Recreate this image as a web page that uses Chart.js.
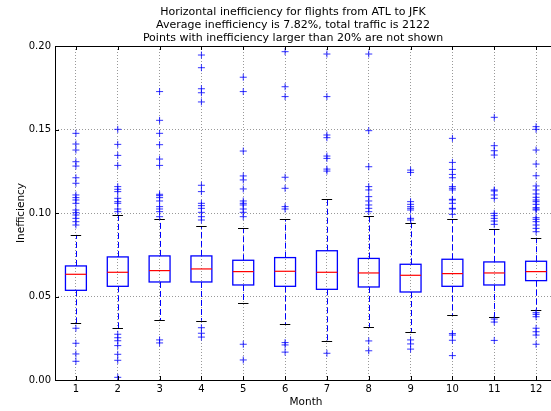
<!DOCTYPE html>
<html>
<head>
<meta charset="utf-8">
<script src="https://cdn.jsdelivr.net/npm/chart.js@4/dist/chart.umd.min.js"></script>
<style>
  html, body { margin: 0; padding: 0; background: #fff; overflow: hidden; }
  #wrap { width: 551px; height: 411px; overflow: hidden; position: relative; }
  canvas { display: block; }
</style>
</head>
<body>
<div id="wrap"><canvas id="c" width="562" height="411"></canvas></div>
<script>
// Monthly box statistics of horizontal inefficiency (ATL -> JFK)
const months = [1, 2, 3, 4, 5, 6, 7, 8, 9, 10, 11, 12];
const q1 = [0.0537, 0.0561, 0.0587, 0.0587, 0.0569, 0.0561, 0.0543, 0.0557, 0.0527, 0.0561, 0.0569, 0.0595];
const q3 = [0.0683, 0.0737, 0.0743, 0.0743, 0.0717, 0.0733, 0.0774, 0.0728, 0.0693, 0.0723, 0.0707, 0.0711];
const medians = [0.0633, 0.0645, 0.0655, 0.0665, 0.0649, 0.0651, 0.0645, 0.0641, 0.0627, 0.0637, 0.0641, 0.0649];
const whiskerLow = [0.0339, 0.0309, 0.0359, 0.0355, 0.0463, 0.0333, 0.0236, 0.0317, 0.0289, 0.0388, 0.0378, 0.0421];
const whiskerHigh = [0.0869, 0.0988, 0.0966, 0.0922, 0.0908, 0.0964, 0.1082, 0.0982, 0.0942, 0.0964, 0.0906, 0.0852];

// Flier points per month (values above / below the whiskers, up to 20%)
const outliers = [
  [0.1477, 0.1413, 0.1377, 0.1307, 0.1281, 0.1211, 0.1178, 0.1108, 0.1092, 0.1078, 0.1058, 0.1018, 0.1002, 0.0988, 0.0968, 0.0948, 0.0928, 0.0310, 0.0220, 0.0156, 0.0112],
  [0.1501, 0.1411, 0.1345, 0.1285, 0.1158, 0.1142, 0.1128, 0.1088, 0.1068, 0.1058, 0.1024, 0.1008, 0.0274, 0.0253, 0.0235, 0.0206, 0.0154, 0.0118, 0.0016],
  [0.1727, 0.1555, 0.1477, 0.1409, 0.1323, 0.1285, 0.1112, 0.1104, 0.1092, 0.1072, 0.1038, 0.1024, 0.1008, 0.0978, 0.0240, 0.0222],
  [0.1946, 0.1870, 0.1744, 0.1720, 0.1665, 0.1166, 0.1128, 0.1058, 0.1044, 0.1028, 0.1004, 0.0978, 0.0958, 0.0313, 0.0280, 0.0257],
  [0.1813, 0.1727, 0.1371, 0.1222, 0.1198, 0.1144, 0.1072, 0.1058, 0.1048, 0.1024, 0.1004, 0.0978, 0.0214, 0.0120],
  [0.1966, 0.1756, 0.1697, 0.1214, 0.1148, 0.1038, 0.1024, 0.0224, 0.0210, 0.0167],
  [0.1952, 0.1697, 0.1467, 0.1451, 0.1341, 0.1327, 0.1263, 0.1251, 0.0160],
  [0.1952, 0.1493, 0.1277, 0.1158, 0.1138, 0.1098, 0.1072, 0.1048, 0.1028, 0.1008, 0.0234, 0.0175],
  [0.1257, 0.1243, 0.1068, 0.1052, 0.1038, 0.1028, 0.1018, 0.0968, 0.0958, 0.0240, 0.0216, 0.0185],
  [0.1447, 0.1303, 0.1261, 0.1231, 0.1211, 0.1158, 0.1148, 0.1138, 0.1082, 0.1078, 0.1058, 0.1028, 0.1024, 0.0992, 0.0278, 0.0269, 0.0238, 0.0146],
  [0.1573, 0.1403, 0.1373, 0.1347, 0.1138, 0.1132, 0.1108, 0.1088, 0.0998, 0.0984, 0.0968, 0.0952, 0.0932, 0.0365, 0.0347, 0.0237],
  [0.1517, 0.1501, 0.1377, 0.1293, 0.1223, 0.1162, 0.1138, 0.1114, 0.1094, 0.1078, 0.1068, 0.1052, 0.1032, 0.1024, 0.1018, 0.0972, 0.0962, 0.0948, 0.0928, 0.0908, 0.0888, 0.0403, 0.0393, 0.0379, 0.0310, 0.0289, 0.0269, 0.0214]
];

const yTicks = [0, 0.05, 0.10, 0.15, 0.20];
const titleLines = [
  'Horizontal inefficiency for flights from ATL to JFK',
  'Average inefficiency is 7.82%, total traffic is 2122',
  'Points with inefficiency larger than 20% are not shown'
];

const FONT = '"DejaVu Sans", sans-serif';
const BOX_W = 0.5;   // box width in month units
const CAP_W = 0.25;  // whisker cap width in month units

const flierPoints = [];
months.forEach((m, i) => outliers[i].forEach(v => flierPoints.push({ x: m, y: v })));

// Draws the boxes, whiskers, caps and medians through the chart scales
const boxPlotPlugin = {
  id: 'boxPlot',
  beforeDatasetsDraw(chart) {
    const { ctx, scales: { x, y } } = chart;
    ctx.save();
    months.forEach((m, i) => {
      const xl = x.getPixelForValue(m - BOX_W / 2);
      const xr = x.getPixelForValue(m + BOX_W / 2);
      const xc = Math.round(x.getPixelForValue(m)) + 0.5;
      const cl = x.getPixelForValue(m - CAP_W / 2);
      const cr = x.getPixelForValue(m + CAP_W / 2);
      const yq1 = y.getPixelForValue(q1[i]);
      const yq3 = y.getPixelForValue(q3[i]);
      const ymed = y.getPixelForValue(medians[i]);
      const ylo = y.getPixelForValue(whiskerLow[i]);
      const yhi = y.getPixelForValue(whiskerHigh[i]);

      // whiskers
      ctx.strokeStyle = '#0000ff';
      ctx.lineWidth = 1;
      ctx.setLineDash([6, 3]);
      ctx.beginPath();
      ctx.moveTo(xc, yq3); ctx.lineTo(xc, yhi);
      ctx.moveTo(xc, yq1); ctx.lineTo(xc, ylo);
      ctx.stroke();
      ctx.setLineDash([]);

      // caps
      ctx.strokeStyle = '#000000';
      ctx.beginPath();
      ctx.moveTo(cl, Math.round(yhi) + 0.5); ctx.lineTo(cr, Math.round(yhi) + 0.5);
      ctx.moveTo(cl, Math.round(ylo) + 0.5); ctx.lineTo(cr, Math.round(ylo) + 0.5);
      ctx.stroke();

      // box
      ctx.strokeStyle = '#0000ff';
      ctx.lineWidth = 1.3;
      ctx.strokeRect(xl, yq3, xr - xl, yq1 - yq3);

      // median
      ctx.strokeStyle = '#ff0000';
      ctx.lineWidth = 1.2;
      ctx.beginPath();
      ctx.moveTo(xl, ymed); ctx.lineTo(xr, ymed);
      ctx.stroke();
    });
    ctx.restore();
  },
  afterDraw(chart) {
    const { ctx, chartArea: a, scales: { x, y } } = chart;
    ctx.save();
    // axes frame
    ctx.strokeStyle = '#000';
    ctx.lineWidth = 1;
    ctx.strokeRect(Math.round(a.left) + 0.5, Math.round(a.top) + 0.5,
      Math.round(a.right - a.left), Math.round(a.bottom - a.top));
    // inward tick marks
    ctx.beginPath();
    months.forEach(m => {
      const px = Math.round(x.getPixelForValue(m)) + 0.5;
      ctx.moveTo(px, a.bottom); ctx.lineTo(px, a.bottom - 4);
      ctx.moveTo(px, a.top); ctx.lineTo(px, a.top + 4);
    });
    yTicks.forEach(v => {
      const py = Math.round(y.getPixelForValue(v)) + 0.5;
      ctx.moveTo(a.left, py); ctx.lineTo(a.left + 4, py);
      ctx.moveTo(a.right, py); ctx.lineTo(a.right - 4, py);
    });
    ctx.stroke();
    // title block
    ctx.fillStyle = '#000';
    ctx.font = '11px ' + FONT;
    ctx.textAlign = 'center';
    ctx.textBaseline = 'middle';
    titleLines.forEach((t, k) => ctx.fillText(t, 293, 12.5 + k * 12.9));
    ctx.restore();
  }
};

new Chart(document.getElementById('c'), {
  type: 'scatter',
  data: {
    datasets: [{
      label: 'fliers',
      data: flierPoints,
      pointStyle: 'cross',
      pointRadius: 3.5,
      pointHoverRadius: 3.5,
      pointBorderWidth: 1,
      borderColor: 'rgba(0,0,255,0.8)',
      backgroundColor: 'rgba(0,0,255,0.8)'
    }]
  },
  options: {
    responsive: false,
    animation: false,
    events: [],
    layout: { padding: { top: 46, left: 0, right: 5, bottom: 0 } },
    plugins: { legend: { display: false }, tooltip: { enabled: false }, title: { display: false } },
    scales: {
      x: {
        type: 'linear',
        min: 0.5,
        max: 12.5,
        afterBuildTicks: s => { s.ticks = months.map(v => ({ value: v })); },
        afterFit: s => { s.height = 31; },
        ticks: { color: '#000', font: { family: FONT, size: 10 }, padding: 3, maxRotation: 0, autoSkip: false },
        grid: { color: 'rgba(0,0,0,0.5)', lineWidth: 0.8, drawTicks: false },
        border: { display: false, dash: [1, 2] },
        title: { display: true, text: 'Month', color: '#000', font: { family: FONT, size: 10.5 }, padding: { top: 0, bottom: 2 } }
      },
      y: {
        min: 0,
        max: 0.2,
        afterBuildTicks: s => { s.ticks = yTicks.map(v => ({ value: v })); },
        afterFit: s => { s.width = 55; },
        ticks: { color: '#000', font: { family: FONT, size: 10 }, padding: 4, callback: v => v.toFixed(2) },
        grid: { color: 'rgba(0,0,0,0.5)', lineWidth: 0.8, drawTicks: false },
        border: { display: false, dash: [1, 2] },
        title: { display: true, text: 'Inefficiency', color: '#000', font: { family: FONT, size: 10.5 }, padding: { top: 15, bottom: 0 } }
      }
    }
  },
  plugins: [boxPlotPlugin]
});
</script>
</body>
</html>
